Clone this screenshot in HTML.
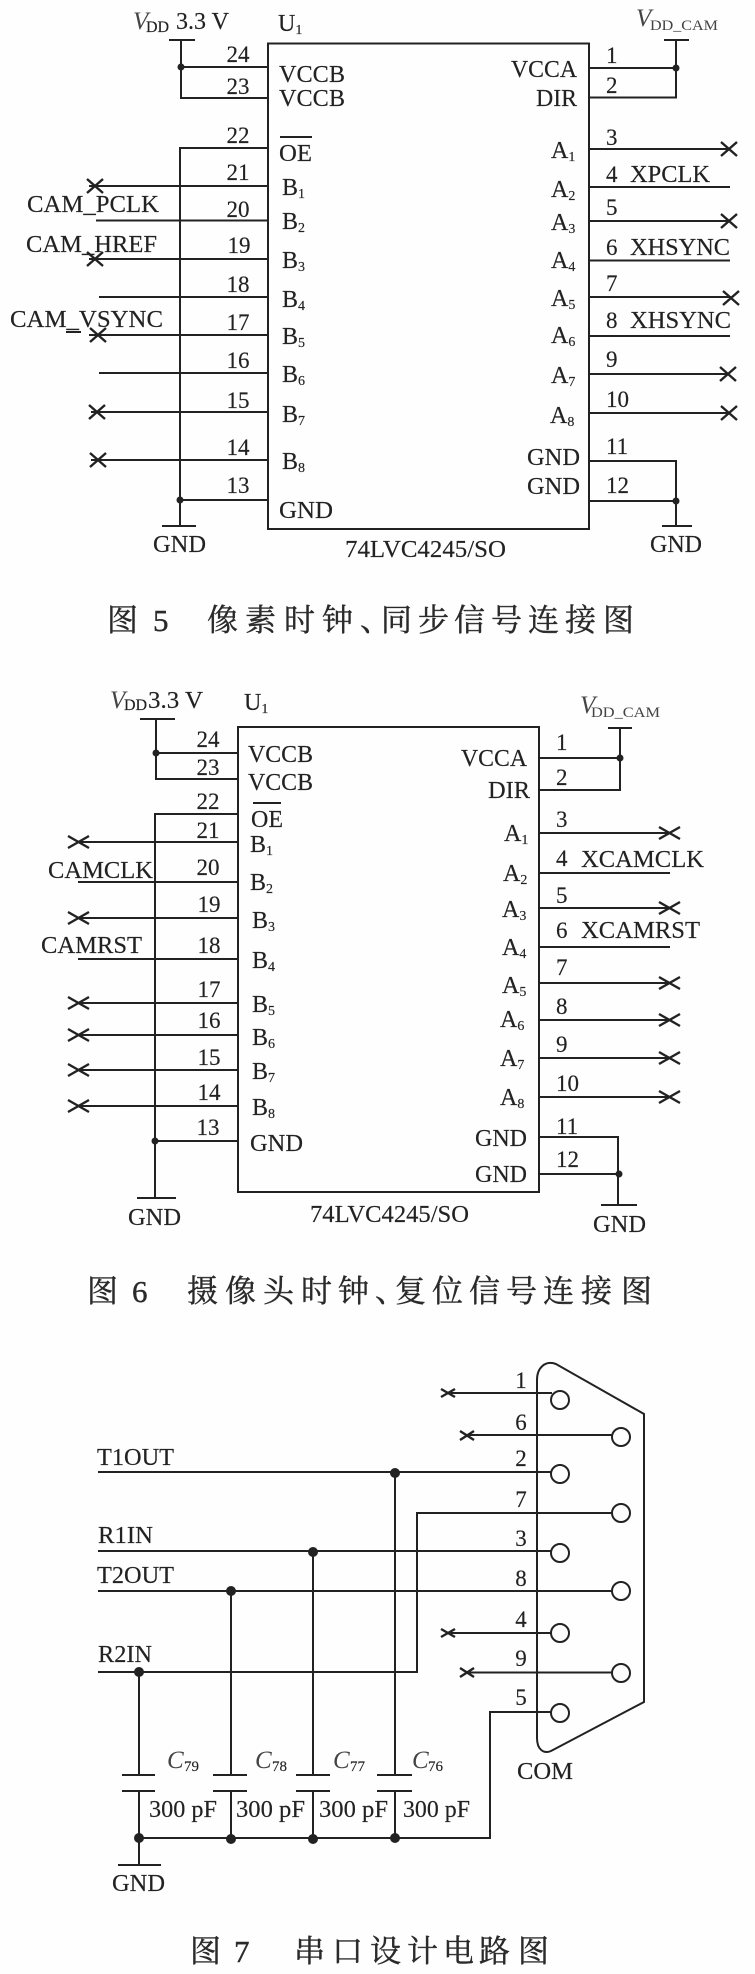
<!DOCTYPE html>
<html lang="zh">
<head>
<meta charset="utf-8">
<title>Circuit diagrams</title>
<style>
html,body{margin:0;padding:0;background:#fefefe;width:755px;height:1974px;overflow:hidden}
svg{display:block;filter:blur(.35px)}
text{font-family:"Liberation Serif","Noto Serif CJK SC",serif;font-size:24px;fill:#222;stroke:#222;stroke-width:.15px}
.n{font-size:23px;text-anchor:middle}
.l{font-size:23px;text-anchor:start}
.s{font-size:14px}
.i{font-style:italic;fill:#444;font-size:25px;stroke:none}
.c{font-size:31px;fill:#2a2a2a;stroke:#2a2a2a;stroke-width:.4px}
.w{fill:none;stroke:#222;stroke-width:2;stroke-linecap:square;stroke-linejoin:miter}
.x{fill:none;stroke:#222;stroke-width:2.4}
.d{fill:#222}
</style>
</head>
<body>
<svg width="755" height="1974" viewBox="0 0 755 1974" xmlns="http://www.w3.org/2000/svg">
<!-- Figure 5 -->
<path class="w" d="M268 43.5H589V529H268Z"/>
<path class="w" d="M170 40H194M181 40V98H268M181 67H268M268 148H180V526M163 526H195M90 186H268M97 220.500H268M90 259H268M100 297H268M90 335H268M100 373H268M92 412H268M92 460H268M180 500H268"/>
<path class="w" d="M665 40H688M676 40V97.500H589M589 68H676M589 149H728M589 187H729M589 221H728M589 260.500H729M589 297H730M589 336H729M589 374H727M589 413H728M589 461H676V526M589 501H676M663 526H691"/>
<path class="x" d="M87 179L103 193M87 193L103 179M87 252L103 266M87 266L103 252M90 328L106 342M90 342L106 328M89 405L105 419M89 419L105 405M90 453L106 467M90 467L106 453M721 142L737 156M721 156L737 142M721 214L737 228M721 228L737 214M723 291L739 305M723 305L739 291M720 367L736 381M720 381L736 367M721 406L737 420M721 420L737 406"/>
<circle class="d" cx="181" cy="67" r="3.500"/><circle class="d" cx="180" cy="500" r="3.500"/><circle class="d" cx="676" cy="68" r="3.500"/><circle class="d" cx="676" cy="501" r="3.500"/>
<path class="w" stroke-width="1.500" d="M281 137H311M67 332H80"/>
<text x="133" y="29" class="i">V</text><text x="146" y="32" style="font-size:16px">DD</text><text x="176" y="29">3.3 V</text>
<text x="278" y="31">U<tspan class="s" dy="3">1</tspan></text>
<text x="636" y="26" class="i">V</text><text x="650" y="30" style="font-size:14.500px;fill:#444;stroke:none" textLength="68" lengthAdjust="spacingAndGlyphs">DD_CAM</text>
<text class="n" x="238" y="62">24</text><text class="n" x="238" y="94">23</text><text class="n" x="238" y="143">22</text><text class="n" x="238" y="180">21</text><text class="n" x="238" y="217">20</text><text class="n" x="239" y="253">19</text><text class="n" x="238" y="292">18</text><text class="n" x="238" y="330">17</text><text class="n" x="238" y="368">16</text><text class="n" x="238" y="408">15</text><text class="n" x="238" y="455">14</text><text class="n" x="238" y="493">13</text>
<text x="279" y="82" textLength="66" lengthAdjust="spacingAndGlyphs">VCCB</text><text x="279" y="106" textLength="66" lengthAdjust="spacingAndGlyphs">VCCB</text><text x="279" y="161" textLength="33" lengthAdjust="spacingAndGlyphs">OE</text>
<text x="282" y="195">B<tspan class="s" dy="3">1</tspan></text><text x="282" y="229">B<tspan class="s" dy="3">2</tspan></text><text x="282" y="268">B<tspan class="s" dy="3">3</tspan></text><text x="282" y="307">B<tspan class="s" dy="3">4</tspan></text><text x="282" y="344">B<tspan class="s" dy="3">5</tspan></text><text x="282" y="382">B<tspan class="s" dy="3">6</tspan></text><text x="282" y="422">B<tspan class="s" dy="3">7</tspan></text><text x="282" y="469">B<tspan class="s" dy="3">8</tspan></text>
<text x="279" y="518" textLength="54" lengthAdjust="spacingAndGlyphs">GND</text><text x="153" y="552" textLength="53" lengthAdjust="spacingAndGlyphs">GND</text>
<text x="27" y="212" textLength="132" lengthAdjust="spacingAndGlyphs">CAM_PCLK</text><text x="26" y="252" textLength="131" lengthAdjust="spacingAndGlyphs">CAM_HREF</text><text x="10" y="327" textLength="153" lengthAdjust="spacingAndGlyphs">CAM_VSYNC</text>
<text x="511" y="77" textLength="66" lengthAdjust="spacingAndGlyphs">VCCA</text><text x="536" y="106" textLength="41" lengthAdjust="spacingAndGlyphs">DIR</text>
<text x="551" y="158">A<tspan class="s" dy="3">1</tspan></text><text x="551" y="197">A<tspan class="s" dy="3">2</tspan></text><text x="551" y="230">A<tspan class="s" dy="3">3</tspan></text><text x="551" y="268">A<tspan class="s" dy="3">4</tspan></text><text x="551" y="306">A<tspan class="s" dy="3">5</tspan></text><text x="551" y="343">A<tspan class="s" dy="3">6</tspan></text><text x="551" y="383">A<tspan class="s" dy="3">7</tspan></text><text x="550" y="423">A<tspan class="s" dy="3">8</tspan></text>
<text x="527" y="465" textLength="53" lengthAdjust="spacingAndGlyphs">GND</text><text x="527" y="494" textLength="53" lengthAdjust="spacingAndGlyphs">GND</text><text x="650" y="552" textLength="52" lengthAdjust="spacingAndGlyphs">GND</text>
<text class="l" x="606" y="63">1</text><text class="l" x="606" y="93">2</text><text class="l" x="606" y="145">3</text><text class="l" x="606" y="182">4</text><text class="l" x="606" y="215">5</text><text class="l" x="606" y="255">6</text><text class="l" x="606" y="291">7</text><text class="l" x="606" y="328">8</text><text class="l" x="606" y="367">9</text><text class="l" x="606" y="407">10</text><text class="l" x="606" y="454">11</text><text class="l" x="606" y="493">12</text>
<text x="630" y="182" textLength="80" lengthAdjust="spacingAndGlyphs">XPCLK</text><text x="630" y="255" textLength="100" lengthAdjust="spacingAndGlyphs">XHSYNC</text><text x="630" y="328" textLength="101" lengthAdjust="spacingAndGlyphs">XHSYNC</text>
<text x="345" y="557" textLength="161" lengthAdjust="spacingAndGlyphs">74LVC4245/SO</text>
<text class="c" x="107 153 207 245 284 322 360 381 418 454 491 528 565 603" y="631">图5像素时钟、同步信号连接图</text>

<!-- Figure 6 -->
<path class="w" d="M238 727H539V1192H238Z"/>
<path class="w" d="M141 719H174M156 719V779H238M156 753H238M238 814H155V1198M138 1198H175M80 842H238M79 882H238M80 918H238M79 959H238M80 1003H238M80 1035H238M80 1070H238M80 1106H238M155 1141H238"/>
<path class="w" d="M609 728H631M620 728V790H539M539 758H620M539 833H668M539 873H669M539 908H668M539 947H669M539 983H668M539 1020H668M539 1058H668M539 1097H668M539 1137H618V1205M539 1174H618M602 1205H636"/>
<path class="x" d="M68 836L89 848M68 848L89 836M68 912L89 924M68 924L89 912M68 997L89 1009M68 1009L89 997M68 1029L89 1041M68 1041L89 1029M68 1064L89 1076M68 1076L89 1064M68 1100L89 1112M68 1112L89 1100M659 827L680 839M659 839L680 827M659 902L680 914M659 914L680 902M659 977L680 989M659 989L680 977M659 1014L680 1026M659 1026L680 1014M659 1052L680 1064M659 1064L680 1052M659 1091L680 1103M659 1103L680 1091"/>
<circle class="d" cx="156" cy="753" r="3.500"/><circle class="d" cx="155" cy="1141" r="3.500"/><circle class="d" cx="620" cy="758" r="3.500"/><circle class="d" cx="619" cy="1174" r="3.500"/>
<path class="w" stroke-width="1.500" d="M254 803H280"/>
<text x="110" y="708" class="i">V</text><text x="124" y="710" style="font-size:16px">DD</text><text x="148" y="708" textLength="55" lengthAdjust="spacingAndGlyphs">3.3 V</text>
<text x="244" y="710">U<tspan class="s" dy="3">1</tspan></text>
<text x="580" y="713" class="i">V</text><text x="591" y="717" style="font-size:14.500px;fill:#444;stroke:none" textLength="69" lengthAdjust="spacingAndGlyphs">DD_CAM</text>
<text class="n" x="208" y="747">24</text><text class="n" x="208" y="775">23</text><text class="n" x="208" y="809">22</text><text class="n" x="208" y="838">21</text><text class="n" x="208" y="875">20</text><text class="n" x="209" y="912">19</text><text class="n" x="209" y="953">18</text><text class="n" x="209" y="997">17</text><text class="n" x="209" y="1028">16</text><text class="n" x="209" y="1065">15</text><text class="n" x="209" y="1100">14</text><text class="n" x="208" y="1135">13</text>
<text x="248" y="762" textLength="65" lengthAdjust="spacingAndGlyphs">VCCB</text><text x="248" y="790" textLength="65" lengthAdjust="spacingAndGlyphs">VCCB</text><text x="251" y="827" textLength="32" lengthAdjust="spacingAndGlyphs">OE</text>
<text x="250" y="852">B<tspan class="s" dy="3">1</tspan></text><text x="250" y="890">B<tspan class="s" dy="3">2</tspan></text><text x="252" y="928">B<tspan class="s" dy="3">3</tspan></text><text x="252" y="968">B<tspan class="s" dy="3">4</tspan></text><text x="252" y="1012">B<tspan class="s" dy="3">5</tspan></text><text x="252" y="1045">B<tspan class="s" dy="3">6</tspan></text><text x="252" y="1079">B<tspan class="s" dy="3">7</tspan></text><text x="252" y="1115">B<tspan class="s" dy="3">8</tspan></text>
<text x="250" y="1151" textLength="53" lengthAdjust="spacingAndGlyphs">GND</text><text x="128" y="1225" textLength="53" lengthAdjust="spacingAndGlyphs">GND</text>
<text x="48" y="878" textLength="105" lengthAdjust="spacingAndGlyphs">CAMCLK</text><text x="41" y="953" textLength="101" lengthAdjust="spacingAndGlyphs">CAMRST</text>
<text x="461" y="766" textLength="66" lengthAdjust="spacingAndGlyphs">VCCA</text><text x="488" y="798" textLength="42" lengthAdjust="spacingAndGlyphs">DIR</text>
<text x="504" y="841">A<tspan class="s" dy="3">1</tspan></text><text x="503" y="881">A<tspan class="s" dy="3">2</tspan></text><text x="502" y="917">A<tspan class="s" dy="3">3</tspan></text><text x="502" y="955">A<tspan class="s" dy="3">4</tspan></text><text x="502" y="993">A<tspan class="s" dy="3">5</tspan></text><text x="500" y="1027">A<tspan class="s" dy="3">6</tspan></text><text x="500" y="1066">A<tspan class="s" dy="3">7</tspan></text><text x="500" y="1105">A<tspan class="s" dy="3">8</tspan></text>
<text x="475" y="1146" textLength="52" lengthAdjust="spacingAndGlyphs">GND</text><text x="475" y="1182" textLength="52" lengthAdjust="spacingAndGlyphs">GND</text><text x="593" y="1232" textLength="53" lengthAdjust="spacingAndGlyphs">GND</text>
<text class="l" x="556" y="750">1</text><text class="l" x="556" y="785">2</text><text class="l" x="556" y="827">3</text><text class="l" x="556" y="866">4</text><text class="l" x="556" y="903">5</text><text class="l" x="556" y="938">6</text><text class="l" x="556" y="975">7</text><text class="l" x="556" y="1014">8</text><text class="l" x="556" y="1052">9</text><text class="l" x="556" y="1091">10</text><text class="l" x="556" y="1134">11</text><text class="l" x="556" y="1167">12</text>
<text x="581" y="867" textLength="123" lengthAdjust="spacingAndGlyphs">XCAMCLK</text><text x="581" y="938" textLength="119" lengthAdjust="spacingAndGlyphs">XCAMRST</text>
<text x="310" y="1222" textLength="159" lengthAdjust="spacingAndGlyphs">74LVC4245/SO</text>
<text class="c" x="87 132 187 225 263 301 338 375 395 432 469 506 543 581 621" y="1302">图6摄像头时钟、复位信号连接图</text>

<!-- Figure 7 -->
<path class="w" d="M537 1380C537 1368 545 1360 556 1364L644 1414V1702L551 1751C544 1754 537 1750 537 1738Z"/>
<g fill="#fefefe" stroke="#222" stroke-width="2">
<circle cx="560" cy="1400" r="9"/><circle cx="621" cy="1437" r="9"/><circle cx="560" cy="1474" r="9"/><circle cx="621" cy="1513" r="9"/><circle cx="560" cy="1553" r="9"/><circle cx="621" cy="1591" r="9"/><circle cx="560" cy="1633" r="9"/><circle cx="621" cy="1673" r="9"/><circle cx="560" cy="1713" r="9"/>
</g>
<path class="w" d="M448 1393H551M467 1435H611M99 1472H551M612 1513H417V1672H99M99 1551H551M99 1591H611M448 1633H551M467 1672.500H611M551 1712H490V1838H139"/>
<path class="w" d="M139 1672V1775M123 1775H154M123 1791H154M139 1791V1865M119 1865H160M231 1591V1775M214 1775H246M214 1791H246M231 1791V1838M313 1551V1775M297 1775H329M297 1791H329M313 1791V1838M395 1472V1775M378 1775H411M378 1791H411M395 1791V1838"/>
<path class="x" stroke-width="2" d="M441 1389L455 1397M441 1397L455 1389M460 1431L474 1440M460 1440L474 1431M441 1629L455 1637M441 1637L455 1629M460 1668L474 1677M460 1677L474 1668"/>
<g class="d"><circle cx="139" cy="1672" r="5"/><circle cx="231" cy="1591" r="5"/><circle cx="313" cy="1552" r="5"/><circle cx="395" cy="1473" r="5"/><circle cx="139" cy="1838" r="5"/><circle cx="231" cy="1839" r="5"/><circle cx="313" cy="1839" r="5"/><circle cx="395" cy="1838" r="5"/></g>
<text x="97" y="1465" textLength="77" lengthAdjust="spacingAndGlyphs">T1OUT</text><text x="98" y="1543" textLength="55" lengthAdjust="spacingAndGlyphs">R1IN</text><text x="97" y="1583" textLength="77" lengthAdjust="spacingAndGlyphs">T2OUT</text><text x="98" y="1662" textLength="54" lengthAdjust="spacingAndGlyphs">R2IN</text>
<text x="112" y="1891" textLength="53" lengthAdjust="spacingAndGlyphs">GND</text><text x="517" y="1779" textLength="56" lengthAdjust="spacingAndGlyphs">COM</text>
<text class="i" x="167" y="1768">C</text><text class="s" x="184" y="1771" style="font-size:15px">79</text><text class="i" x="255" y="1768">C</text><text class="s" x="272" y="1771" style="font-size:15px">78</text><text class="i" x="333" y="1768">C</text><text class="s" x="350" y="1771" style="font-size:15px">77</text><text class="i" x="412" y="1768">C</text><text class="s" x="428" y="1771" style="font-size:15px">76</text>
<text x="149" y="1817" textLength="68" lengthAdjust="spacingAndGlyphs">300 pF</text><text x="236" y="1817" textLength="69" lengthAdjust="spacingAndGlyphs">300 pF</text><text x="319" y="1817" textLength="69" lengthAdjust="spacingAndGlyphs">300 pF</text><text x="403" y="1817" textLength="67" lengthAdjust="spacingAndGlyphs">300 pF</text>
<text class="n" x="521" y="1388">1</text><text class="n" x="521" y="1430">6</text><text class="n" x="521" y="1466">2</text><text class="n" x="521" y="1507">7</text><text class="n" x="521" y="1546">3</text><text class="n" x="521" y="1586">8</text><text class="n" x="521" y="1627">4</text><text class="n" x="521" y="1666">9</text><text class="n" x="521" y="1705">5</text>
<text class="c" x="190 234 294 332 370 407 443 479 518" y="1962">图7串口设计电路图</text>
</svg>
</body>
</html>
